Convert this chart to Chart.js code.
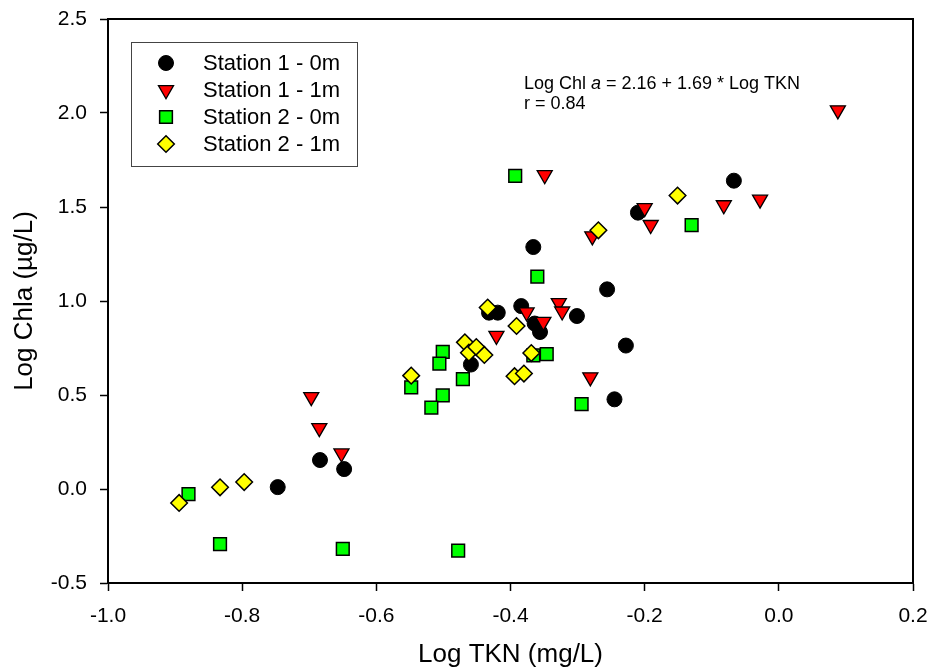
<!DOCTYPE html>
<html>
<head>
<meta charset="utf-8">
<script src="https://cdn.jsdelivr.net/npm/chart.js@4"></script>
<style>
  html, body { margin: 0; padding: 0; background: #fff; }
  #wrap { width: 933px; height: 670px; }
</style>
</head>
<body>
<div id="wrap"><canvas id="scatter"></canvas></div>
<script>
// series names
const seriesNames = ['Station 1 - 0m', 'Station 1 - 1m', 'Station 2 - 0m', 'Station 2 - 1m'];

// Station 1 - 0m
const st1m0X = [-0.747, -0.684, -0.648, -0.459, -0.432, -0.419, -0.384, -0.366, -0.364, -0.356, -0.301, -0.256, -0.228, -0.245, -0.210, -0.067];
const st1m0Y = [0.010, 0.154, 0.106, 0.662, 0.938, 0.938, 0.973, 1.287, 0.880, 0.835, 0.920, 1.062, 0.763, 0.477, 1.470, 1.640];

// Station 1 - 1m
const st1m1X = [-0.697, -0.685, -0.652, -0.421, -0.376, -0.351, -0.328, -0.323, -0.281, -0.349, -0.278, -0.200, -0.191, -0.082, -0.028, 0.088];
const st1m1Y = [0.490, 0.325, 0.190, 0.815, 0.940, 0.890, 0.990, 0.945, 0.595, 1.670, 1.345, 1.495, 1.405, 1.510, 1.540, 2.015];

// Station 2 - 0m
const st2m0X = [-0.880, -0.833, -0.650, -0.478, -0.548, -0.501, -0.506, -0.471, -0.501, -0.518, -0.360, -0.346, -0.366, -0.294, -0.393, -0.130];
const st2m0Y = [-0.027, -0.293, -0.319, -0.328, 0.541, 0.729, 0.667, 0.585, 0.498, 0.433, 1.130, 0.718, 0.711, 0.451, 1.665, 1.403];

// Station 2 - 1m
const st2m1X = [-0.894, -0.833, -0.797, -0.548, -0.468, -0.462, -0.451, -0.439, -0.434, -0.391, -0.394, -0.380, -0.369, -0.151, -0.269];
const st2m1Y = [-0.074, 0.009, 0.037, 0.603, 0.780, 0.725, 0.755, 0.713, 0.965, 0.867, 0.600, 0.614, 0.723, 1.561, 1.376];

const xTickLabels = ['-1.0', '-0.8', '-0.6', '-0.4', '-0.2', '0.0', '0.2'];
const yTickLabels = ['-0.5', '0.0', '0.5', '1.0', '1.5', '2.0', '2.5'];

const FONT = "'Liberation Sans', Arial, sans-serif";

function pairs(xs, ys) {
  return xs.map((x, i) => ({ x: x, y: ys[i] }));
}

const styles = [
  { pointStyle: 'circle', backgroundColor: '#000000', borderColor: '#000000', pointRadius: 7.5, borderWidth: 1, rotation: 0 },
  { pointStyle: 'triangle', backgroundColor: '#ff0000', borderColor: '#000000', pointRadius: 8.7, borderWidth: 1.3, rotation: 180 },
  { pointStyle: 'rect', backgroundColor: '#00ff00', borderColor: '#000000', pointRadius: 9, borderWidth: 1.5, rotation: 0 },
  { pointStyle: 'rectRot', backgroundColor: '#ffff00', borderColor: '#000000', pointRadius: 8.3, borderWidth: 1.5, rotation: 0 }
];

const allData = [pairs(st1m0X, st1m0Y), pairs(st1m1X, st1m1Y), pairs(st2m0X, st2m0Y), pairs(st2m1X, st2m1Y)];

const datasets = allData.map((d, i) => ({
  label: seriesNames[i],
  data: d,
  order: 4 - i,
  pointStyle: styles[i].pointStyle,
  pointRadius: styles[i].pointRadius,
  pointHoverRadius: styles[i].pointRadius,
  pointRotation: styles[i].rotation,
  backgroundColor: styles[i].backgroundColor,
  borderColor: styles[i].borderColor,
  pointBorderWidth: styles[i].borderWidth,
  showLine: false
}));

// box round the plot area and the legend + equation inside it
const framePlugin = {
  id: 'frame',
  afterDraw(chart) {
    const ctx = chart.ctx;
    const a = chart.chartArea;
    ctx.save();
    ctx.strokeStyle = '#000';
    ctx.lineWidth = 2;
    ctx.strokeRect(a.left, a.top, a.right - a.left, a.bottom - a.top);

    // legend
    const lx = a.left + 23, ly = a.top + 23, lw = 226, lh = 124;
    ctx.lineWidth = 1;
    ctx.strokeStyle = '#444';
    ctx.fillStyle = '#fff';
    ctx.fillRect(lx, ly, lw, lh);
    ctx.strokeRect(lx + 0.5, ly + 0.5, lw, lh);
    ctx.font = '22px ' + FONT;
    ctx.textBaseline = 'middle';
    ctx.textAlign = 'left';
    seriesNames.forEach((name, i) => {
      const cy = ly + 21 + i * 27;
      const s = styles[i];
      ctx.fillStyle = s.backgroundColor;
      ctx.strokeStyle = s.borderColor;
      ctx.lineWidth = s.borderWidth;
      Chart.helpers.drawPoint(ctx, { pointStyle: s.pointStyle, radius: s.pointRadius, rotation: s.rotation, borderWidth: s.borderWidth }, lx + 35, cy);
      ctx.fillStyle = '#000';
      ctx.fillText(name, lx + 72, cy + 1);
    });

    // regression text
    const tx = chart.scales.x.getPixelForValue(-0.38);
    const ty = chart.scales.y.getPixelForValue(2.13);
    ctx.fillStyle = '#000';
    ctx.textBaseline = 'alphabetic';
    ctx.font = '18px ' + FONT;
    let x = tx;
    const part1 = 'Log Chl ';
    ctx.fillText(part1, x, ty);
    x += ctx.measureText(part1).width;
    ctx.font = 'italic 18px ' + FONT;
    ctx.fillText('a', x, ty);
    x += ctx.measureText('a').width;
    ctx.font = '18px ' + FONT;
    ctx.fillText(' = 2.16 + 1.69 * Log TKN', x, ty);
    ctx.fillText('r = 0.84', tx, ty + 20);
    ctx.restore();
  }
};

function noPad(scale) {
  scale.paddingTop = 0;
  scale.paddingBottom = 0;
  scale.paddingLeft = 0;
  scale.paddingRight = 0;
}

const ctx = document.getElementById('scatter').getContext('2d');
const chart = new Chart(ctx, {
  type: 'scatter',
  data: { datasets: datasets },
  options: {
    responsive: true,
    maintainAspectRatio: false,
    animation: false,
    events: [],
    layout: { padding: { left: 0, right: 20, top: 19, bottom: 0 } },
    plugins: {
      legend: { display: false },
      tooltip: { enabled: false }
    },
    scales: {
      x: {
        type: 'linear',
        min: -1.0,
        max: 0.2,
        afterFit(scale) { scale.height = 87; noPad(scale); },
        afterBuildTicks(scale) {
          scale.ticks = xTickLabels.map(t => ({ value: parseFloat(t) }));
        },
        ticks: {
          callback: (v, i) => xTickLabels[i],
          color: '#000',
          font: { family: FONT, size: 21 },
          padding: 13,
          maxRotation: 0
        },
        grid: { drawOnChartArea: false, drawTicks: true, tickLength: 8, tickWidth: 1.5, tickColor: '#000' },
        border: { display: true, color: '#000', width: 2 },
        title: {
          display: true,
          text: 'Log TKN (mg/L)',
          color: '#000',
          font: { family: FONT, size: 26 },
          padding: { top: 0, bottom: 0 }
        }
      },
      y: {
        type: 'linear',
        min: -0.5,
        max: 2.5,
        afterFit(scale) { scale.width = 108; noPad(scale); },
        afterBuildTicks(scale) {
          scale.ticks = yTickLabels.map(t => ({ value: parseFloat(t) }));
        },
        ticks: {
          callback: (v, i) => yTickLabels[i],
          color: '#000',
          font: { family: FONT, size: 21 },
          padding: 13
        },
        grid: { drawOnChartArea: false, drawTicks: true, tickLength: 8, tickWidth: 1.5, tickColor: '#000' },
        border: { display: true, color: '#000', width: 2 },
        title: {
          display: true,
          text: 'Log Chla (µg/L)',
          color: '#000',
          font: { family: FONT, size: 26 },
          padding: { top: 9, bottom: 0 }
        }
      }
    }
  },
  plugins: [framePlugin]
});
</script>
</body>
</html>
